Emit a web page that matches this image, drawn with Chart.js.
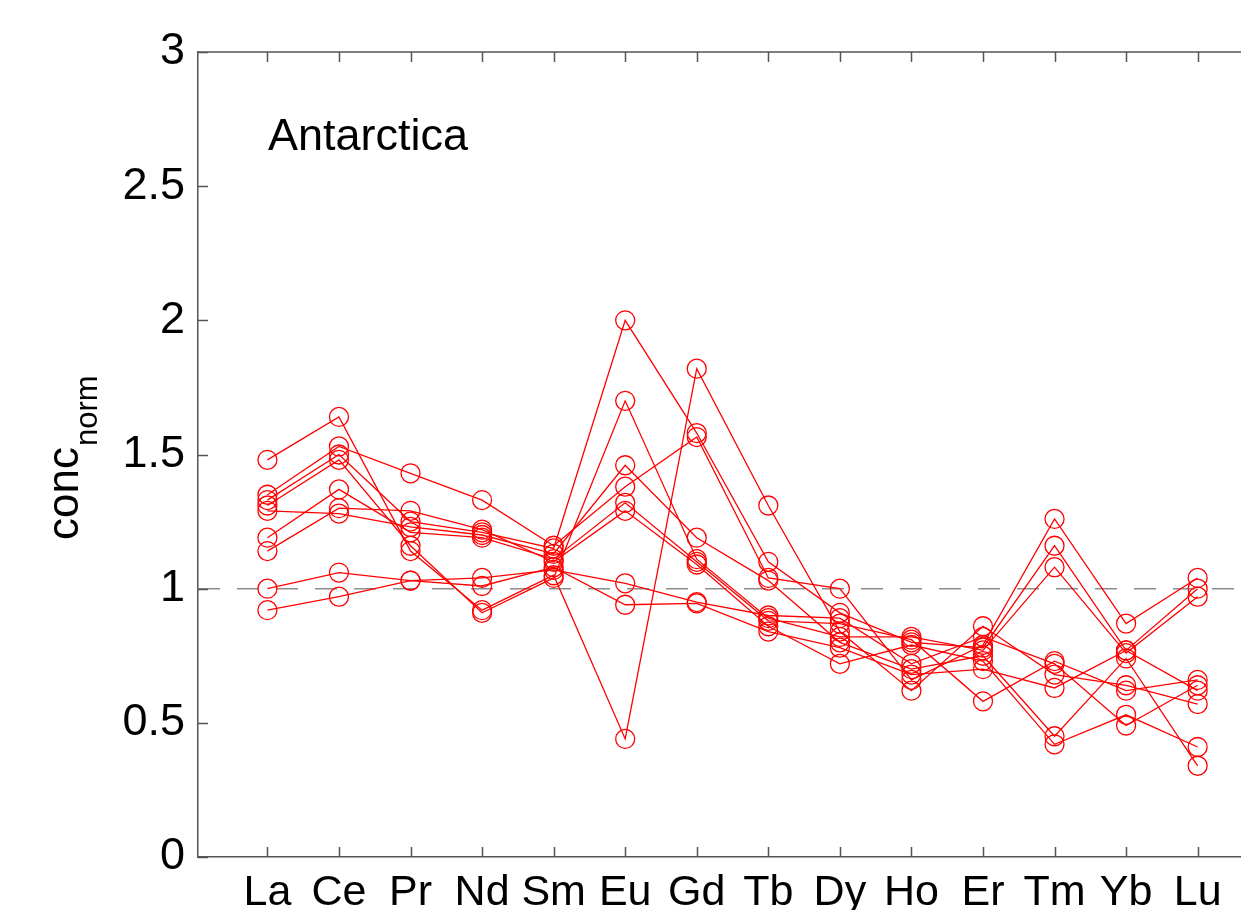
<!DOCTYPE html>
<html>
<head>
<meta charset="utf-8">
<title>Antarctica - normalised REE pattern</title>
<script src="https://cdn.jsdelivr.net/npm/chart.js@4.4.1/dist/chart.umd.min.js"></script>
<style>
  html, body { margin: 0; padding: 0; background: #fff; overflow: hidden; }
  #wrap { width: 1280px; height: 910px; }
</style>
</head>
<body>
<div id="wrap"><canvas id="ree-chart" width="1280" height="910"></canvas></div>
<script>
// Rare earth elements along the x axis
const elements = ["La", "Ce", "Pr", "Nd", "Sm", "Eu", "Gd", "Tb", "Dy", "Ho", "Er", "Tm", "Yb", "Lu"];
const yTicks = [0, 0.5, 1, 1.5, 2, 2.5, 3];

// Normalised concentrations, one array per sample
const sampleA = [1.48, 1.64, 1.14, 0.92, 1.05, 0.44, 1.82, 1.31, 0.84, 0.62, 0.86, 0.68, 0.64, 0.57];
const sampleB = [1.35, 1.53, 1.43, 1.33, 1.16, 1.38, 1.565, 1.04, 1.00, 0.66, 0.79, 1.26, 0.87, 1.04];
const sampleC = [1.33, 1.50, 1.25, 1.21, 1.15, 2.00, 1.58, 1.10, 0.91, 0.80, 0.78, 1.16, 0.77, 1.00];
const sampleD = [1.31, 1.48, 1.16, 0.91, 1.04, 1.70, 1.11, 0.89, 0.82, 0.82, 0.77, 1.08, 0.76, 0.97];
const sampleE = [1.29, 1.28, 1.23, 1.20, 1.13, 1.46, 1.19, 1.03, 0.80, 0.70, 0.75, 0.45, 0.74, 0.34];
const sampleF = [1.19, 1.37, 1.21, 1.19, 1.11, 1.32, 1.10, 0.88, 0.87, 0.81, 0.58, 0.73, 0.62, 0.66];
const sampleG = [1.14, 1.30, 1.29, 1.22, 1.10, 1.29, 1.09, 0.86, 0.72, 0.79, 0.73, 0.42, 0.53, 0.41];
const sampleH = [1.00, 1.06, 1.03, 1.04, 1.07, 1.02, 0.95, 0.90, 0.89, 0.72, 0.82, 0.72, 0.49, 0.64];
const sampleI = [0.92, 0.97, 1.03, 1.01, 1.08, 0.94, 0.945, 0.84, 0.78, 0.68, 0.70, 0.63, 0.77, 0.62];

const samples = [sampleA, sampleB, sampleC, sampleD, sampleE, sampleF, sampleG, sampleH, sampleI];

const FONT = "'Liberation Sans', Arial, sans-serif";
const FRAME = "#555555";
const RED = "#ff0000";

// dashed reference line at conc = 1, drawn under the data
const unityLine = {
  id: "unityLine",
  beforeDatasetsDraw(chart) {
    const { ctx, chartArea: a, scales: { y } } = chart;
    const py = y.getPixelForValue(1);
    ctx.save();
    ctx.strokeStyle = "#8c8c8c";
    ctx.lineWidth = 1.5;
    ctx.setLineDash([22, 17]);
    ctx.beginPath();
    ctx.moveTo(a.left, py);
    ctx.lineTo(a.right, py);
    ctx.stroke();
    ctx.restore();
  }
};

// box frame with inward ticks, title and y label with subscript
const frameAndLabels = {
  id: "frameAndLabels",
  afterDraw(chart) {
    const { ctx, chartArea: a, scales: { x, y } } = chart;
    ctx.save();
    ctx.strokeStyle = FRAME;
    ctx.lineWidth = 1.5;
    ctx.beginPath();
    ctx.moveTo(a.left, a.top);
    ctx.lineTo(a.right, a.top);
    ctx.lineTo(a.right, a.bottom);
    elements.forEach((el, i) => {
      const px = Math.round(x.getPixelForValue(i + 1)) + 0.5;
      ctx.moveTo(px, a.top);
      ctx.lineTo(px, a.top + 10);
      ctx.moveTo(px, a.bottom);
      ctx.lineTo(px, a.bottom - 10);
    });
    yTicks.forEach(v => {
      const py = Math.round(y.getPixelForValue(v)) + 0.5;
      ctx.moveTo(a.left, py);
      ctx.lineTo(a.left + 10, py);
    });
    ctx.stroke();

    // panel name
    ctx.fillStyle = "#000";
    ctx.font = "45px " + FONT;
    ctx.textAlign = "left";
    ctx.textBaseline = "alphabetic";
    ctx.fillText("Antarctica", 268, 150);

    // y axis title: conc with subscript norm
    ctx.translate(78, 540);
    ctx.rotate(-Math.PI / 2);
    ctx.font = "44px " + FONT;
    ctx.fillText("conc", 0, 0);
    const w = ctx.measureText("conc").width;
    ctx.font = "31px " + FONT;
    ctx.fillText("norm", w + 1, 19);
    ctx.restore();
  }
};

const datasets = samples.map((vals, k) => ({
  label: "sample " + (k + 1),
  data: vals.map((v, i) => ({ x: i + 1, y: v })),
  showLine: true,
  borderColor: RED,
  borderWidth: 1.3,
  backgroundColor: "rgba(0,0,0,0)",
  pointStyle: "circle",
  pointRadius: 9.5,
  pointBorderWidth: 1.3,
  pointBorderColor: RED,
  pointBackgroundColor: "rgba(0,0,0,0)",
  tension: 0
}));

new Chart(document.getElementById("ree-chart"), {
  type: "scatter",
  data: { datasets },
  options: {
    responsive: false,
    animation: false,
    layout: { padding: { top: 52, right: 2, bottom: 0, left: 0 } },
    plugins: {
      legend: { display: false },
      tooltip: { enabled: false }
    },
    scales: {
      x: {
        type: "linear",
        min: 0.03,
        max: 15,
        grid: { display: false, drawTicks: false },
        border: { display: true, color: FRAME, width: 1.5 },
        afterBuildTicks: s => { s.ticks = elements.map((_, i) => ({ value: i + 1 })); },
        afterFit: s => { s.height = 53; s.paddingLeft = 0; s.paddingRight = 0; },
        ticks: {
          autoSkip: false,
          maxRotation: 0,
          padding: 10,
          color: "#000",
          font: { family: FONT, size: 43 },
          callback: v => elements[v - 1] ?? ""
        }
      },
      y: {
        min: 0,
        max: 3,
        grid: { display: false, drawTicks: false },
        border: { display: true, color: FRAME, width: 1.5 },
        afterFit: s => { s.width = 198; },
        ticks: {
          stepSize: 0.5,
          padding: 13,
          color: "#000",
          font: { family: FONT, size: 45 },
          callback: v => String(v)
        }
      }
    }
  },
  plugins: [unityLine, frameAndLabels]
});
</script>
</body>
</html>
